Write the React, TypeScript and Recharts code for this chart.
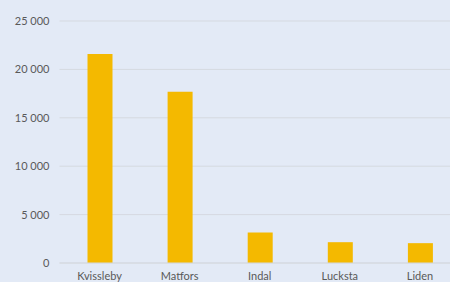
import React from "react";
import { BarChart, Bar, XAxis, YAxis, CartesianGrid } from "recharts";

const places = ["Kvissleby", "Matfors", "Indal", "Lucksta", "Liden"];
const population = [21600, 17700, 3150, 2150, 2050];
const yTicks = [0, 5000, 10000, 15000, 20000, 25000];

const data = places.map((name, i) => ({ name, value: population[i] }));

const fmt = (v: number) => v.toString().replace(/\B(?=(\d{3})+(?!\d))/g, " ");

const tickStyle = { fill: "#595959", fontSize: 11, fontFamily: "Lato, 'Open Sans', sans-serif" };

const App: React.FC = () => {
  return (
    <div
      style={{
        position: "fixed",
        left: 0,
        top: 0,
        width: 450,
        height: 282,
        overflow: "hidden",
        background: "#e3eaf6",
      }}
    >
      <BarChart
        width={460}
        height={282}
        data={data}
        margin={{ top: 21, right: 0, bottom: 0, left: 0 }}
      >
        <CartesianGrid vertical={false} stroke="#d5d9e0" />
        <XAxis
          dataKey="name"
          height={19}
          tickLine={false}
          tickSize={0}
          tickMargin={9}
          axisLine={{ stroke: "#d5d9e0" }}
          tick={tickStyle}
          interval={0}
        />
        <YAxis
          width={59.5}
          domain={[0, 25000]}
          ticks={yTicks}
          tickFormatter={fmt}
          axisLine={false}
          tickLine={false}
          tickSize={0}
          tickMargin={10}
          tick={tickStyle}
        />
        <Bar dataKey="value" fill="#f4b900" barSize={25} isAnimationActive={false} />
      </BarChart>
    </div>
  );
};

export default App;
